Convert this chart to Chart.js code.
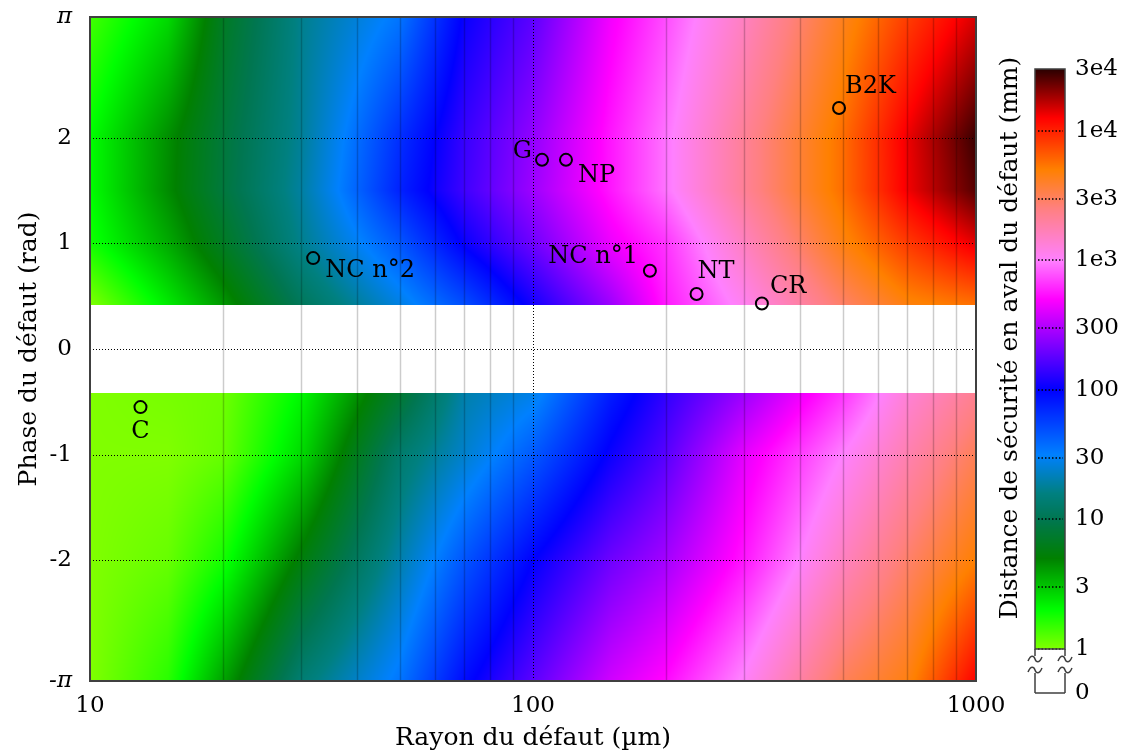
<!DOCTYPE html>
<html><head><meta charset="utf-8">
<script src="https://cdn.jsdelivr.net/npm/chart.js@4.4.1/dist/chart.umd.min.js"></script>
<style>
html,body{margin:0;padding:0;background:#fff;}
#wrap{position:relative;width:1124px;height:753px;overflow:hidden;}
canvas{position:absolute;top:0;}
</style>
</head><body>
<div id="wrap">
<canvas id="main" width="1124" height="753" style="left:0;width:1124px;height:753px"></canvas>
<canvas id="cb" width="134" height="753" style="left:990px;width:134px;height:753px"></canvas>
</div>
<script>
// ---------------- DATA ----------------
// grid of defect radius (µm) and phase (rad) on which the safety distance (mm) is read
const radii = [10, 15, 20, 30, 50, 70, 100, 150, 200, 300, 500, 700, 1000];
const phases = [-Math.PI, -2, -1, -0.42, 0.42, 1, 1.5, 2, Math.PI];
// safety distance (mm) along each phase row
const distPhaseMinusPi  = [1.0, 1.6, 3.9, 14, 35, 91, 178, 372, 525, 1050, 3090, 4570, 12600];
const distPhaseMinus2   = [1.0, 1.15, 1.8, 5.5, 20, 47, 100, 200, 282, 562, 1580, 2820, 5010];
const distPhaseMinus1   = [1.0, 1.0, 1.15, 2.6, 13, 24, 45, 107, 174, 427, 1000, 1780, 3160];
const distPhaseMinus042 = [1.0, 1.05, 1.1, 2.1, 7.6, 20, 28, 79, 135, 269, 661, 1350, 2240];
const distPhasePlus042  = [1.0, 2.3, 4.2, 11, 27, 50, 112, 269, 575, 1120, 2880, 4680, 5620];
const distPhasePlus1    = [1.8, 3.7, 6.8, 17, 46, 105, 200, 447, 661, 1580, 4570, 8320, 14100];
const distPhasePlus15   = [2.0, 4.6, 8.5, 19, 74, 148, 269, 562, 933, 2140, 5750, 13200, 25100];
const distPhasePlus2    = [2.0, 4.5, 8.3, 18, 66, 141, 251, 562, 933, 2140, 5750, 13500, 28200];
const distPhasePlusPi   = [1.4, 2.6, 6.8, 17, 35, 105, 178, 468, 759, 1580, 4270, 8130, 14800];

// named defects
const defectNames  = ['C', 'NC n°2', 'G', 'NP', 'NC n°1', 'NT', 'CR', 'B2K'];
const defectRadius = [13.0, 31.9, 104.8, 118.7, 183.6, 234, 328.6, 490.7];
const defectPhase  = [-0.55, 0.86, 1.79, 1.79, 0.74, 0.52, 0.43, 2.28];

// ticks
const xTickValues = [10, 20, 30, 40, 50, 60, 70, 80, 90, 100, 200, 300, 400, 500, 600, 700, 800, 900, 1000];
const xTickLabelled = [10, 100, 1000];
const yTickValues = [-Math.PI, -2, -1, 0, 1, 2, Math.PI];
const yTickLabels = ['-π', '-2', '-1', '0', '1', '2', 'π'];
const cbTickValues = [1, 3, 10, 30, 100, 300, 1000, 3000, 10000, 30000];
const cbTickLabels = ['1', '3', '10', '30', '100', '300', '1e3', '3e3', '1e4', '3e4'];

// ---------------- STYLE ----------------
const FAM = "'DejaVu Serif', 'Liberation Serif', serif";
const FS_TITLE = 25, FS_TICK = 23, FS_LABEL = 24;
const fnt = (size, style) => ({ family: FAM, size: size, style: style || 'normal', lineHeight: 1.2 });
const cmapStops = [
  [0.00, 128, 255, 0], [0.30, 0, 255, 0], [0.70, 0, 128, 0], [1.00, 0, 118, 80],
  [1.20, 0, 128, 128], [1.50, 0, 128, 255], [2.00, 0, 0, 255], [2.35, 128, 0, 255],
  [2.70, 255, 0, 255], [3.00, 255, 128, 255], [3.40, 255, 128, 128], [3.70, 255, 128, 0],
  [4.10, 255, 0, 0], [4.48, 40, 0, 0]
];
// label placement relative to each marker: [dx, dy, align]
const labelPlace = [[0, 25, 'center'], [12, 13, 'left'], [-10, -8, 'right'], [12, 16, 'left'],
  [-12, -14, 'right'], [1, -22, 'left'], [8, -17, 'left'], [6, -21, 'left']];

function cmap(v) {
  const s = cmapStops;
  if (v <= s[0][0]) return [s[0][1], s[0][2], s[0][3]];
  for (let i = 0; i < s.length - 1; i++) {
    if (v <= s[i + 1][0]) {
      const t = (v - s[i][0]) / (s[i + 1][0] - s[i][0]);
      return [s[i][1] + t * (s[i + 1][1] - s[i][1]), s[i][2] + t * (s[i + 1][2] - s[i][2]), s[i][3] + t * (s[i + 1][3] - s[i][3])];
    }
  }
  const l = s[s.length - 1];
  return [l[1], l[2], l[3]];
}

const distRows = [distPhaseMinusPi, distPhaseMinus2, distPhaseMinus1, distPhaseMinus042,
  distPhasePlus042, distPhasePlus1, distPhasePlus15, distPhasePlus2, distPhasePlusPi];
const logR = radii.map(v => Math.log10(v));
const logRows = distRows.map(row => row.map(v => Math.log10(v)));

function seg(arr, v) {
  const n = arr.length;
  if (v <= arr[0]) return [0, 0];
  if (v >= arr[n - 1]) return [n - 2, 1];
  let i = 0;
  while (i < n - 2 && v > arr[i + 1]) i++;
  return [i, (v - arr[i]) / (arr[i + 1] - arr[i])];
}

const heatPlugin = {
  id: 'heat',
  beforeDatasetsDraw(chart) {
    const { ctx, chartArea: a, scales: { x, y } } = chart;
    const L = Math.round(a.left), T = Math.round(a.top);
    const W = Math.round(a.right) - L, H = Math.round(a.bottom) - T;
    const img = ctx.createImageData(W, H);
    const d = img.data;
    const ci = new Int16Array(W), ct = new Float32Array(W);
    for (let px = 0; px < W; px++) {
      const s = seg(logR, Math.log10(x.getValueForPixel(L + px + 0.5)));
      ci[px] = s[0]; ct[px] = s[1];
    }
    for (let py = 0; py < H; py++) {
      const ph = y.getValueForPixel(T + py + 0.5);
      const inGap = ph > phases[3] && ph < phases[4];
      const sp = seg(phases, ph);
      const r0 = logRows[sp[0]], r1 = logRows[sp[0] + 1], tp = sp[1];
      for (let px = 0; px < W; px++) {
        const k = (py * W + px) * 4;
        if (inGap) { d[k] = 255; d[k + 1] = 255; d[k + 2] = 255; d[k + 3] = 255; continue; }
        const i = ci[px], t = ct[px];
        const v0 = r0[i] + t * (r0[i + 1] - r0[i]);
        const v1 = r1[i] + t * (r1[i + 1] - r1[i]);
        const c = cmap(v0 + tp * (v1 - v0));
        d[k] = c[0]; d[k + 1] = c[1]; d[k + 2] = c[2]; d[k + 3] = 255;
      }
    }
    ctx.putImageData(img, L, T);
    // grid lines
    ctx.save();
    ctx.beginPath(); ctx.rect(a.left, a.top, a.right - a.left, a.bottom - a.top); ctx.clip();
    xTickValues.forEach(v => {
      if (v === 10 || v === 1000) return;
      const px = Math.round(x.getPixelForValue(v)) + 0.5;
      ctx.beginPath();
      if (v === 100) { ctx.setLineDash([1, 2]); ctx.strokeStyle = '#000'; ctx.lineWidth = 1; }
      else { ctx.setLineDash([]); ctx.strokeStyle = 'rgba(0,0,0,0.2)'; ctx.lineWidth = 1.5; }
      ctx.moveTo(px, a.top); ctx.lineTo(px, a.bottom); ctx.stroke();
    });
    ctx.setLineDash([1, 2]); ctx.strokeStyle = '#000'; ctx.lineWidth = 1;
    yTickValues.forEach(v => {
      if (Math.abs(v) > 3) return;
      const py = Math.round(y.getPixelForValue(v)) + 0.5;
      ctx.beginPath(); ctx.moveTo(a.left, py); ctx.lineTo(a.right, py); ctx.stroke();
    });
    ctx.restore();
  },
  afterDatasetsDraw(chart) {
    const { ctx, chartArea: a, scales: { x, y } } = chart;
    ctx.save();
    ctx.fillStyle = '#000';
    ctx.font = FS_LABEL + 'px ' + FAM;
    ctx.textBaseline = 'middle';
    defectNames.forEach((n, i) => {
      const px = x.getPixelForValue(defectRadius[i]), py = y.getPixelForValue(defectPhase[i]);
      const p = labelPlace[i];
      ctx.textAlign = p[2];
      ctx.fillText(n, px + p[0], py + p[1]);
    });
    ctx.strokeStyle = '#404040'; ctx.lineWidth = 2; ctx.setLineDash([]);
    ctx.strokeRect(a.left, a.top, a.right - a.left, a.bottom - a.top);
    ctx.restore();
  }
};

new Chart(document.getElementById('main'), {
  type: 'scatter',
  data: {
    datasets: [{
      data: defectRadius.map((r, i) => ({ x: r, y: defectPhase[i] })),
      pointStyle: 'circle', pointRadius: 6, pointBorderWidth: 2,
      pointBorderColor: '#000', pointBackgroundColor: 'rgba(0,0,0,0)', showLine: false
    }]
  },
  options: {
    responsive: false, animation: false,
    layout: { padding: { left: 0, right: 148, top: 17, bottom: 0 } },
    plugins: { legend: { display: false }, tooltip: { enabled: false } },
    scales: {
      x: {
        type: 'logarithmic', min: 10, max: 1000,
        afterBuildTicks: s => { s.ticks = xTickValues.map(v => ({ value: v })); },
        afterFit: s => { s.height = 72; s.paddingLeft = 0; s.paddingRight = 0; },
        grid: { display: false, drawTicks: false }, border: { display: false },
        ticks: {
          autoSkip: false, maxRotation: 0, padding: 11, color: '#000', font: fnt(FS_TICK),
          callback: v => xTickLabelled.includes(v) ? String(v) : ''
        },
        title: { display: true, text: 'Rayon du défaut (µm)', color: '#000', font: fnt(FS_TITLE), padding: { top: 0, bottom: 0 } }
      },
      y: {
        type: 'linear', min: -Math.PI, max: Math.PI,
        afterBuildTicks: s => { s.ticks = yTickValues.map(v => ({ value: v })); },
        afterFit: s => { s.width = 90; s.paddingTop = 0; s.paddingBottom = 0; },
        grid: { display: false, drawTicks: false }, border: { display: false },
        ticks: {
          autoSkip: false, padding: 18, color: '#000',
          font: c => (c.tick && Math.abs(c.tick.value) > 3) ? fnt(FS_TICK, 'italic') : fnt(FS_TICK),
          callback: (v, i) => yTickLabels[i]
        },
        title: { display: true, text: 'Phase du défaut (rad)', color: '#000', font: fnt(FS_TITLE), padding: { top: 14, bottom: 0 } }
      }
    }
  },
  plugins: [heatPlugin]
});

// ---------------- COLOUR BAR ----------------
const cbPlugin = {
  id: 'cbar',
  afterDraw(chart) {
    const { ctx, chartArea: a, scales: { y } } = chart;
    ctx.save();
    const L = a.left, R = a.right;
    for (let py = Math.floor(a.top); py < Math.ceil(a.bottom); py++) {
      const v = y.getValueForPixel(py + 0.5);
      const c = cmap(Math.log10(v));
      ctx.fillStyle = 'rgb(' + c.map(Math.round).join(',') + ')';
      ctx.fillRect(L, py, R - L, 1);
    }
    ctx.setLineDash([1.5, 2]); ctx.strokeStyle = '#000'; ctx.lineWidth = 1.5;
    cbTickValues.forEach(v => {
      if (v === 30000) return;
      const py = Math.round(y.getPixelForValue(v));
      ctx.beginPath(); ctx.moveTo(L + 3, py); ctx.lineTo(R - 2, py); ctx.stroke();
    });
    ctx.setLineDash([]);
    ctx.strokeStyle = '#404040'; ctx.lineWidth = 1.5;
    ctx.strokeRect(L, a.top, R - L, a.bottom - a.top);
    // axis break and zero box
    const b = a.bottom;
    ctx.beginPath();
    [L, R].forEach(xe => {
      ctx.moveTo(xe, b); ctx.lineTo(xe, b + 7);
      [b + 10, b + 21].forEach(cy => {
        ctx.moveTo(xe - 7, cy + 2);
        ctx.bezierCurveTo(xe - 4, cy - 5, xe - 1, cy - 3, xe, cy);
        ctx.bezierCurveTo(xe + 1, cy + 3, xe + 4, cy + 5, xe + 7, cy - 2);
      });
      ctx.moveTo(xe, b + 24); ctx.lineTo(xe, b + 44);
    });
    ctx.moveTo(L, b + 44); ctx.lineTo(R, b + 44);
    ctx.stroke();
    ctx.fillStyle = '#000';
    ctx.font = FS_TICK + 'px ' + FAM;
    ctx.textAlign = 'left'; ctx.textBaseline = 'middle';
    ctx.fillText('0', R + 10, b + 44);
    // title
    ctx.font = FS_TITLE + 'px ' + FAM;
    ctx.translate(20, 338);
    ctx.rotate(-Math.PI / 2);
    ctx.textAlign = 'center';
    ctx.fillText('Distance de sécurité en aval du défaut (mm)', 0, 0);
    ctx.restore();
  }
};

new Chart(document.getElementById('cb'), {
  type: 'scatter',
  data: { datasets: [] },
  options: {
    responsive: false, animation: false,
    layout: { padding: { left: 45, right: 0, top: 69, bottom: 104 } },
    plugins: { legend: { display: false }, tooltip: { enabled: false } },
    scales: {
      x: { display: false, min: 0, max: 1 },
      y: {
        type: 'logarithmic', position: 'right', min: 1, max: 30000,
        afterBuildTicks: s => { s.ticks = cbTickValues.map(v => ({ value: v })); },
        afterFit: s => { s.width = 59; },
        grid: { display: false, drawTicks: false }, border: { display: false },
        ticks: { autoSkip: false, padding: 10, color: '#000', font: fnt(FS_TICK), callback: (v, i) => cbTickLabels[i] }
      }
    }
  },
  plugins: [cbPlugin]
});
</script>
</body></html>
